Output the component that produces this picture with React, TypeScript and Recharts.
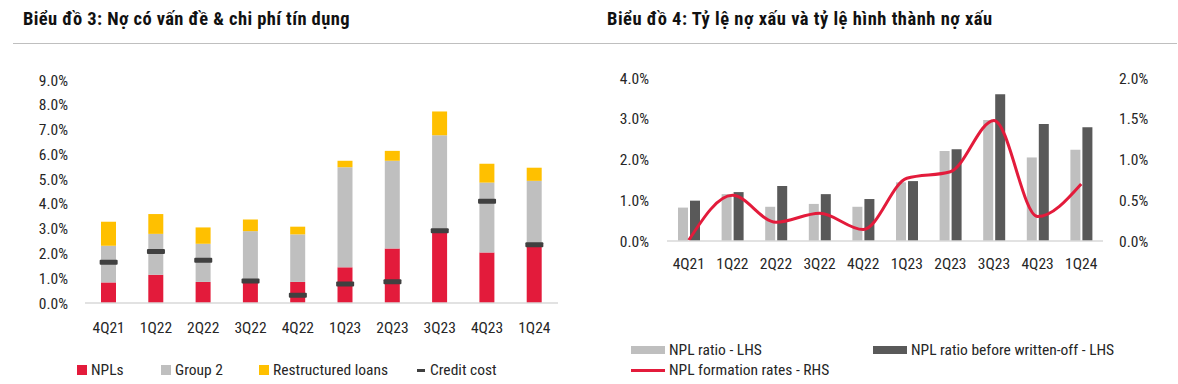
import React from 'react';
import { ComposedChart, Bar, Line, XAxis, YAxis } from 'recharts';

const quarters = ['4Q21', '1Q22', '2Q22', '3Q22', '4Q22', '1Q23', '2Q23', '3Q23', '4Q23', '1Q24'];

// Biểu đồ 3 (% of loans)
const npls = [0.83, 1.14, 0.85, 0.85, 0.85, 1.44, 2.2, 2.89, 2.04, 2.27];
const group2 = [1.48, 1.65, 1.54, 2.05, 1.92, 4.04, 3.54, 3.88, 2.82, 2.66];
const restructured = [0.97, 0.8, 0.66, 0.47, 0.31, 0.26, 0.4, 0.96, 0.76, 0.53];
const creditCost = [1.64, 2.08, 1.73, 0.89, 0.31, 0.77, 0.86, 2.92, 4.11, 2.35];
const leftTicks = [0, 1, 2, 3, 4, 5, 6, 7, 8, 9];

// Biểu đồ 4
const nplRatio = [0.82, 1.15, 0.84, 0.91, 0.84, 1.44, 2.21, 2.97, 2.05, 2.24];
const nplBeforeWo = [0.99, 1.2, 1.35, 1.15, 1.03, 1.47, 2.25, 3.6, 2.87, 2.79];
const nplFormation = [0.01, 0.56, 0.23, 0.34, 0.14, 0.77, 0.85, 1.48, 0.3, 0.7];
const lhsTicks = [0, 1, 2, 3, 4];
const rhsTicks = [0, 0.5, 1, 1.5, 2];

const FONT = "'Liberation Sans Narrow', 'Roboto Condensed', 'DejaVu Sans Condensed', sans-serif";
const TEXT = '#262626';
const RED = '#E31B3B';
const GREY = '#BFBFBF';
const YELLOW = '#FFC000';
const DARK = '#595959';

const leftData = quarters.map((q, i) => ({
  q,
  npl: npls[i],
  g2: group2[i],
  rl: restructured[i],
  cc: creditCost[i],
}));

const rightData = quarters.map((q, i) => ({
  q,
  ratio: nplRatio[i],
  before: nplBeforeWo[i],
  formation: nplFormation[i],
}));

const pct = (v: number) => `${v.toFixed(1)}%`;
const tickStyle = { fill: TEXT, fontSize: 15.5, fontFamily: FONT };

const CreditMark = (props: any) => {
  const { cx, cy } = props;
  if (cx == null || cy == null) return null;
  return <rect x={cx - 9} y={cy - 2.5} width={18} height={5} rx={1} fill="#404040" />;
};

function Swatch({ color, w = 10, h = 10 }: { color: string; w?: number; h?: number }) {
  return <span style={{ display: 'inline-block', width: w, height: h, background: color, marginRight: 4 }} />;
}

export default function App() {
  return (
    <div style={{ position: 'absolute', left: 0, top: 0, width: 1178, height: 384, background: '#fff', fontFamily: FONT, color: TEXT }}>
      <div style={{ position: 'absolute', left: 23, top: 8, fontSize: 18.5, fontWeight: 700, color: '#111', letterSpacing: 0.4 }}>
        Biểu đồ 3: Nợ có vấn đề &amp; chi phí tín dụng
      </div>
      <div style={{ position: 'absolute', left: 607, top: 8, fontSize: 18.5, fontWeight: 700, color: '#111', letterSpacing: 0.5 }}>
        Biểu đồ 4: Tỷ lệ nợ xấu và tỷ lệ hình thành nợ xấu
      </div>
      <div style={{ position: 'absolute', left: 13, top: 43, width: 1164, height: 1, background: '#BFBFBF' }} />

      <div style={{ position: 'absolute', left: 0, top: 0 }}>
        <ComposedChart width={580} height={345} data={leftData} margin={{ top: 80, right: 22, bottom: 0, left: 0 }} barSize={15}>
          <XAxis dataKey="q" interval={0} tickLine={false} tickSize={0} tickMargin={19} height={42} stroke="#D9D9D9" strokeWidth={1.5} tick={tickStyle} />
          <YAxis domain={[0, 9]} ticks={leftTicks} tickFormatter={pct} axisLine={false} tickLine={false} tickSize={0} tickMargin={17} width={85} tick={tickStyle} />
          <Bar dataKey="npl" stackId="a" fill={RED} isAnimationActive={false} />
          <Bar dataKey="g2" stackId="a" fill={GREY} isAnimationActive={false} />
          <Bar dataKey="rl" stackId="a" fill={YELLOW} isAnimationActive={false} />
          <Line dataKey="cc" stroke="none" dot={<CreditMark />} activeDot={false} isAnimationActive={false} />
        </ComposedChart>
      </div>

      <div style={{ position: 'absolute', left: 77, top: 361, fontSize: 15.5, display: 'flex', alignItems: 'center', whiteSpace: 'nowrap' }}>
        <Swatch color={RED} />
        <span style={{ width: 70 }}>NPLs</span>
        <Swatch color={GREY} />
        <span style={{ width: 84 }}>Group 2</span>
        <Swatch color={YELLOW} />
        <span style={{ width: 144 }}>Restructured loans</span>
        <span style={{ display: 'inline-block', width: 8, height: 3, background: '#404040', marginRight: 5 }} />
        <span>Credit cost</span>
      </div>

      <div style={{ position: 'absolute', left: 590, top: 0 }}>
        <ComposedChart width={588} height={283} data={rightData} margin={{ top: 78, right: 0, bottom: 0, left: 0 }} barSize={10} barGap={2}>
          <XAxis dataKey="q" interval={0} tickLine={false} tickSize={0} tickMargin={17} height={42} stroke="#D9D9D9" strokeWidth={1.5} tick={tickStyle} />
          <YAxis yAxisId="l" domain={[0, 4]} ticks={lhsTicks} tickFormatter={pct} axisLine={false} tickLine={false} tickSize={0} tickMargin={18} width={77} tick={tickStyle} />
          <YAxis yAxisId="r" orientation="right" domain={[0, 2]} ticks={rhsTicks} tickFormatter={pct} axisLine={false} tickLine={false} tickSize={0} tickMargin={16} width={75} tick={{ ...tickStyle, textAnchor: 'start' }} />
          <Bar yAxisId="l" dataKey="ratio" fill={GREY} isAnimationActive={false} />
          <Bar yAxisId="l" dataKey="before" fill={DARK} isAnimationActive={false} />
          <Line yAxisId="r" type="monotone" dataKey="formation" stroke={RED} strokeWidth={3} dot={false} activeDot={false} isAnimationActive={false} />
        </ComposedChart>
      </div>

      <div style={{ position: 'absolute', left: 631, top: 340, fontSize: 15.5, whiteSpace: 'nowrap' }}>
        <div style={{ display: 'flex', alignItems: 'center', height: 20 }}>
          <Swatch color={GREY} w={34} h={8} />
          <span style={{ width: 204 }}>NPL ratio - LHS</span>
          <Swatch color={DARK} w={34} h={8} />
          <span>NPL ratio before written-off - LHS</span>
        </div>
        <div style={{ display: 'flex', alignItems: 'center', height: 20 }}>
          <Swatch color={RED} w={34} h={3} />
          <span>NPL formation rates - RHS</span>
        </div>
      </div>
    </div>
  );
}
